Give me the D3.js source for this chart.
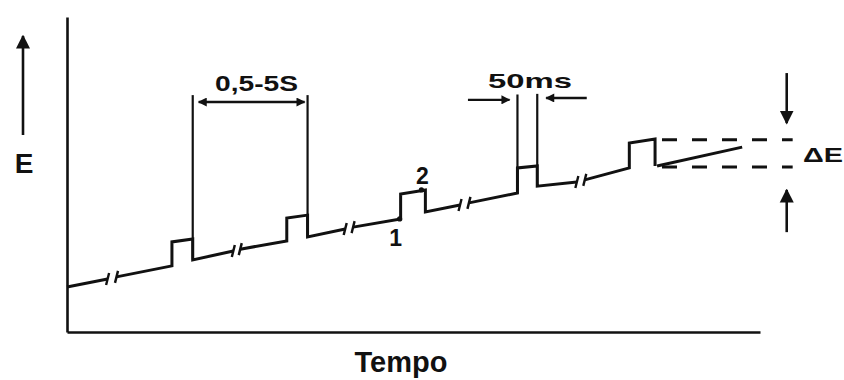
<!DOCTYPE html>
<html>
<head>
<meta charset="utf-8">
<script src="https://cdn.jsdelivr.net/npm/d3@7"></script>
<style>
    body { margin: 0; background: #fff; }
    svg { display: block; }
    text { font-family: "Liberation Sans", Arial, sans-serif; font-weight: bold; fill: #111; }
</style>
</head>
<body>
<svg id="chart"></svg>
<script>
// staircase waveform, time t vs potential E (arbitrary units), split at the breaks
const segA = [[0, 14.3], [4.1, 16.8]];
const segB = [[5.0, 17.5], [10.6, 21.0], [10.6, 28.6], [12.7, 29.5], [12.7, 22.9], [16.8, 25.7]];
const segC = [[17.5, 26.3], [22.2, 28.9], [22.2, 36.2], [24.3, 37.1], [24.3, 30.2], [28.1, 32.7]];
const segD = [[28.9, 33.3], [33.7, 35.9], [33.7, 43.8], [36.2, 45.1], [36.2, 38.1], [39.7, 40.3]];
const segE = [[40.6, 41.0], [45.5, 44.1], [45.5, 52.1], [47.5, 52.7], [47.5, 46.3], [51.5, 47.6]];
const segF = [[52.3, 48.3], [56.8, 52.1], [56.8, 60.0], [59.4, 61.3], [59.4, 52.7]];
const segG = [[59.6, 52.7], [68.2, 58.7]];
const waveform = [segA, segB, segC, segD, segE, segF, segG];

// time markers: [t, E at the waveform, E at the top]
const timeMarks = [[12.7, 22.9, 75.2], [24.3, 30.2, 75.2], [45.5, 44.1, 75.4], [47.5, 46.3, 75.6]];

// sampling points 1 and 2
const samplePoints = [[33.6, 35.9, "1"], [35.8, 45.1, "2"]];

// pulse height dashed levels (E) and their t range
const deltaLevels = [61.0, 52.4];
const deltaRange = [60.1, 73.3];

// annotation arrows [t1, E1, t2, E2]
const spanArrow = [13.3, 73.0, 24.0, 73.0];              // 0,5-5S
const pulseArrows = [[40.5, 73.7, 44.7, 73.7], [52.5, 74.3, 48.4, 74.3]]; // 50ms
const deltaArrows = [[72.7, 82.2, 72.7, 66.3], [72.7, 31.7, 72.7, 45.1]];

const width = 844, height = 380;

const svg = d3.select('#chart')
    .attr('width', width)
    .attr('height', height);

const x = d3.scaleLinear().domain([0, 70]).range([67, 760]);
const y = d3.scaleLinear().domain([0, 100]).range([332, 17]);

// arrow heads
const defs = svg.append('defs');
function head(id, len, wid) {
    defs.append('marker')
        .attr('id', id)
        .attr('viewBox', '0 0 10 10')
        .attr('refX', 9).attr('refY', 5)
        .attr('markerUnits', 'userSpaceOnUse')
        .attr('markerWidth', len).attr('markerHeight', wid)
        .attr('orient', 'auto-start-reverse')
        .append('path').attr('d', 'M0,0 L10,5 L0,10 Z').attr('fill', '#111');
}
head('small', 10, 9);
head('big', 14, 15);

// axes (no ticks)
svg.append('g')
    .attr('transform', `translate(0,${y(0)})`)
    .call(d3.axisBottom(x).ticks(0).tickSizeOuter(0))
    .select('.domain').attr('stroke', '#111').attr('stroke-width', 2.6);

svg.append('g')
    .attr('transform', `translate(${x(0)},0)`)
    .call(d3.axisLeft(y).ticks(0).tickSizeOuter(0))
    .select('.domain').attr('stroke', '#111').attr('stroke-width', 2.6);

const line = d3.line().x(d => x(d[0])).y(d => y(d[1]));

// time markers
svg.selectAll('line.mark')
    .data(timeMarks)
    .join('line')
    .attr('class', 'mark')
    .attr('x1', d => x(d[0])).attr('x2', d => x(d[0]))
    .attr('y1', d => y(d[1])).attr('y2', d => y(d[2]))
    .attr('stroke', '#111').attr('stroke-width', 2.2);

// waveform
svg.selectAll('path.wave')
    .data(waveform)
    .join('path')
    .attr('class', 'wave')
    .attr('d', line)
    .attr('fill', 'none')
    .attr('stroke', '#111')
    .attr('stroke-width', 3)
    .attr('stroke-linejoin', 'miter');

// break ticks at the segment ends
const breakPts = [];
for (let i = 0; i < 5; i++) {
    breakPts.push(waveform[i][waveform[i].length - 1]);
    breakPts.push(waveform[i + 1][0]);
}
svg.selectAll('line.brk')
    .data(breakPts)
    .join('line')
    .attr('class', 'brk')
    .attr('x1', d => x(d[0]) - 1.5).attr('y1', d => y(d[1]) + 6)
    .attr('x2', d => x(d[0]) + 1.5).attr('y2', d => y(d[1]) - 6)
    .attr('stroke', '#111').attr('stroke-width', 2.4);

// dashed levels
svg.selectAll('line.lvl')
    .data(deltaLevels)
    .join('line')
    .attr('class', 'lvl')
    .attr('x1', x(deltaRange[0])).attr('x2', x(deltaRange[1]))
    .attr('y1', d => y(d)).attr('y2', d => y(d))
    .attr('stroke', '#111').attr('stroke-width', 3)
    .attr('stroke-dasharray', '15 15');

// sampling points
svg.selectAll('circle.pt')
    .data(samplePoints)
    .join('circle')
    .attr('class', 'pt')
    .attr('cx', d => x(d[0])).attr('cy', d => y(d[1]))
    .attr('r', 2.6).attr('fill', '#111');

svg.selectAll('text.pt')
    .data(samplePoints)
    .join('text')
    .attr('class', 'pt')
    .attr('x', d => x(d[0]) + (d[2] === '1' ? -4 : 1))
    .attr('y', d => d[2] === '1' ? y(d[1]) + 27 : y(d[1]) - 6)
    .attr('text-anchor', 'middle')
    .attr('font-size', 23)
    .text(d => d[2]);

// annotation arrows
const arrow = (d, cls, size, both) => svg.append('line')
    .attr('class', cls)
    .attr('x1', x(d[0])).attr('y1', y(d[1]))
    .attr('x2', x(d[2])).attr('y2', y(d[3]))
    .attr('stroke', '#111').attr('stroke-width', size === 'big' ? 2.6 : 2.4)
    .attr('marker-end', `url(#${size})`)
    .attr('marker-start', both ? `url(#${size})` : null);

arrow(spanArrow, 'span', 'small', true);
pulseArrows.forEach(d => arrow(d, 'pulse', 'small', false));
deltaArrows.forEach(d => arrow(d, 'delta', 'big', false));

// E axis arrow
svg.append('line')
    .attr('x1', 23).attr('y1', 135).attr('x2', 23).attr('y2', 36)
    .attr('stroke', '#111').attr('stroke-width', 2.6)
    .attr('marker-end', 'url(#big)');

// texts
svg.append('text').attr('x', 24).attr('y', 173).attr('text-anchor', 'middle')
    .attr('font-size', 28).text('E');
svg.append('text').attr('x', 401).attr('y', 372).attr('text-anchor', 'middle')
    .attr('font-size', 29).text('Tempo');
svg.append('text').attr('x', 215).attr('y', 91)
    .attr('font-size', 22).attr('textLength', 83).attr('lengthAdjust', 'spacingAndGlyphs')
    .text('0,5-5S');
svg.append('text').attr('x', 488).attr('y', 88)
    .attr('font-size', 21).attr('textLength', 84).attr('lengthAdjust', 'spacingAndGlyphs')
    .text('50ms');
svg.append('text').attr('x', 803).attr('y', 162)
    .attr('font-size', 21).attr('textLength', 40).attr('lengthAdjust', 'spacingAndGlyphs')
    .text('ΔE');
</script>
</body>
</html>
